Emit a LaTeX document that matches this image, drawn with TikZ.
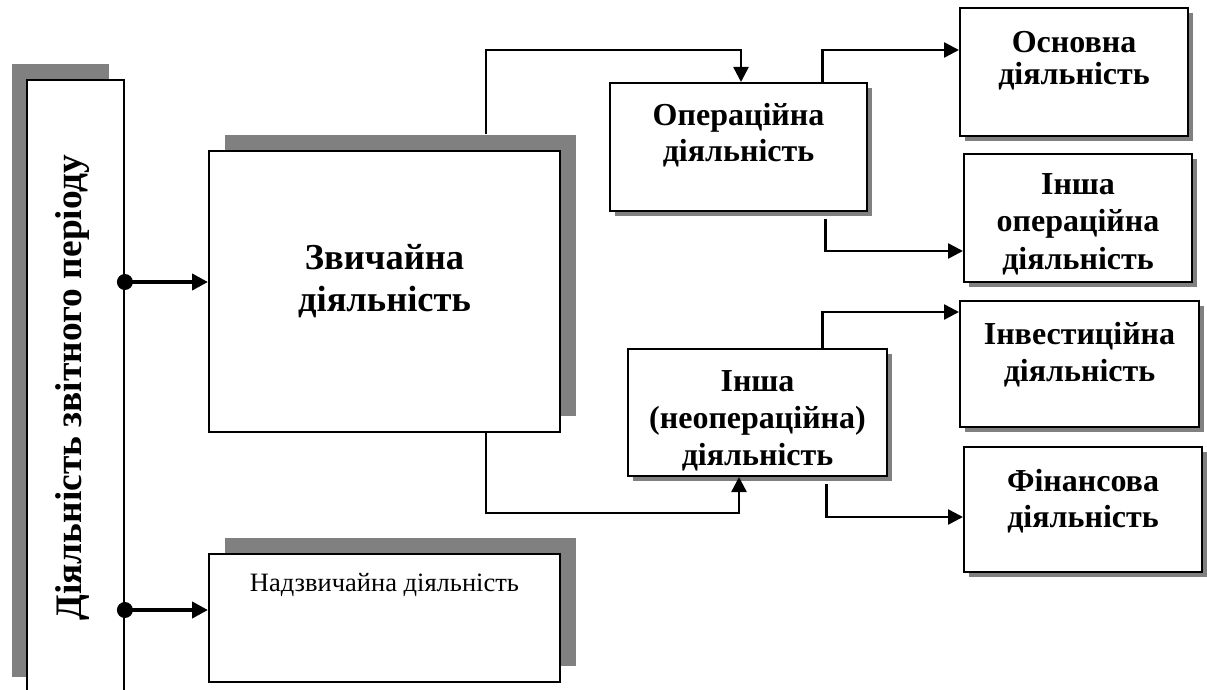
\documentclass[tikz,border=0pt]{standalone}
\usepackage{fontspec}
\setmainfont{Liberation Serif}
\usetikzlibrary{arrows.meta,shadows}
\definecolor{shadowgray}{gray}{0.5}

\begin{document}
\begin{tikzpicture}[x=1pt,y=-1pt,
  box/.style={draw, line width=2pt, fill=white, inner sep=0pt},
  bigshadow/.style={drop shadow={shadow xshift=16pt, shadow yshift=16pt, fill=shadowgray, opacity=1}},
  leftshadow/.style={drop shadow={shadow xshift=-15pt, shadow yshift=16pt, fill=shadowgray, opacity=1}},
  smallshadow/.style={drop shadow={shadow xshift=5pt, shadow yshift=-5pt, fill=shadowgray, opacity=1}},
  conn/.style={line width=2.5pt, -{Triangle[length=15pt,width=15pt]}},
  feed/.style={line width=4.5pt, -{Triangle[length=16pt,width=16pt]}},
  lbl/.style={font=\bfseries\fontsize{32}{36}\selectfont, align=center, inner sep=0pt, anchor=north},
]
\clip (0,0) rectangle (1207,690);
\useasboundingbox (0,0) rectangle (1207,690);

% period column on the left
\node[box, line width=1.8pt, leftshadow, minimum width=97pt, minimum height=613pt] (lb) at (75.5,386.5) {};
\node[rotate=90, anchor=base, inner sep=0pt, font=\bfseries\fontsize{37.4}{42}\selectfont] (tlb) at (81,387.5) {Діяльність звітного періоду};

% ordinary and extraordinary activity
\node[box, bigshadow, minimum width=351pt, minimum height=281pt] (zv) at (384.5,291.5) {};
\node[lbl, font=\bfseries\fontsize{36.5}{42}\selectfont] (tzv) at ([yshift=-94]zv.north) {Звичайна\\діяльність};

\node[box, bigshadow, minimum width=351pt, minimum height=128pt] (nd) at (384.5,618) {};
\node[lbl, font=\fontsize{26.5}{30}\selectfont] (tnd) at ([yshift=-20]nd.north) {Надзвичайна діяльність};

% operating and other activity
\node[box, smallshadow, minimum width=257pt, minimum height=128pt] (op) at (738.5,147) {};
\node[lbl] (top) at ([yshift=-21]op.north) {Операційна\\діяльність};

\node[box, smallshadow, minimum width=259pt, minimum height=127pt] (in) at (757.5,412.5) {};
\node[lbl, font=\bfseries\fontsize{32}{37}\selectfont] (tin) at ([yshift=-22]in.north) {Інша\\(неопераційна)\\діяльність};

% detailed kinds of activity
\node[box, smallshadow, minimum width=228pt, minimum height=128pt] (os) at (1074,72) {};
\node[lbl, font=\bfseries\fontsize{32}{32}\selectfont] (tos) at ([yshift=-24]os.north) {Основна\\діяльність};

\node[box, smallshadow, minimum width=228pt, minimum height=128pt] (ioa) at (1078,218) {};
\node[lbl, font=\bfseries\fontsize{32}{37.5}\selectfont] (tioa) at ([yshift=-20]ioa.north) {Інша\\операційна\\діяльність};

\node[box, smallshadow, minimum width=239pt, minimum height=126pt] (inv) at (1079.5,364) {};
\node[lbl, font=\bfseries\fontsize{32}{37}\selectfont] (tinv) at ([yshift=-22]inv.north) {Інвестиційна\\діяльність};

\node[box, smallshadow, minimum width=238pt, minimum height=125pt] (fin) at (1083,509.5) {};
\node[lbl] (tfin) at ([yshift=-23]fin.north) {Фінансова\\діяльність};

% links from the period column
\draw[feed] ([yshift=9.5]zv.west -| lb.east) -- ([yshift=9.5]zv.west);
\fill ([yshift=9.5]zv.west -| lb.east) circle[radius=8];
\draw[feed] ([yshift=8]nd.west -| lb.east) -- ([yshift=8]nd.west);
\fill ([yshift=8]nd.west -| lb.east) circle[radius=8];

% links between the activity boxes
\draw[conn] ([xshift=101.5,yshift=16]zv.north) -- ++(0,-84) -| ([xshift=2.5]op.north);
\draw[conn] ([xshift=101.5]zv.south) -- ++(0,80) -| ([xshift=-18.5]in.south);
\draw[conn] ([xshift=84]op.north) |- ([yshift=22]os.west);
\draw[conn] ([xshift=87,yshift=-7]op.south) |- ([yshift=-33]ioa.west);
\draw[conn] ([xshift=65]in.north) |- ([yshift=52]inv.west);
\draw[conn] ([xshift=69,yshift=-7]in.south) |- ([yshift=-7.5]fin.west);
\end{tikzpicture}
\end{document}
